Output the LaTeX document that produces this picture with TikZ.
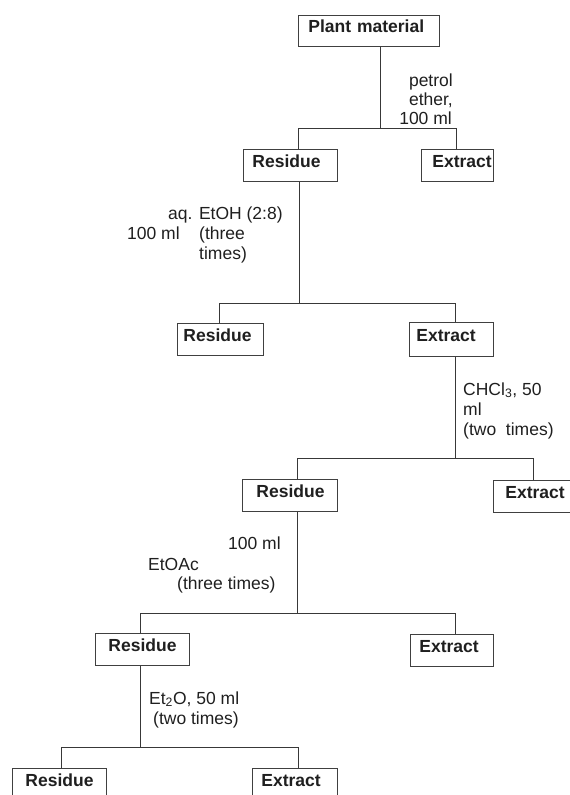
\documentclass[tikz,border=0pt]{standalone}
\usepackage{fontspec}
\setmainfont{Liberation Sans}
\begin{document}
\begin{tikzpicture}[x=1pt,y=-1pt,
  font=\fontsize{17.5}{19.5}\selectfont,
  box/.style={draw=black!75, line width=0.9pt, anchor=north west, inner xsep=0pt, inner ysep=0pt,
    align=left, text height=12pt, text depth=8pt, text=black!88,
    font=\fontsize{17.5}{19.5}\selectfont\bfseries},
  conn/.style={draw=black!78, line width=0.9pt},
  lbl/.style={inner sep=0pt, text=black!88},
  lw/.style={lbl, anchor=base west},
  le/.style={lbl, anchor=base east}]
\useasboundingbox (0,0) rectangle (570,795);
\clip (0,0) rectangle (570,795);

% boxes
\node[box, minimum width=141pt, minimum height=31pt, text width=141pt] (plant) at (298,15) {\hspace*{10pt}Plant material};
\node[box, minimum width=94pt, minimum height=32pt, text width=94pt] (res1) at (243,149) {\hspace*{9pt}Residue};
\node[box, minimum width=72pt, minimum height=32pt, text width=72pt] (ext1) at (421,149) {\hspace*{11pt}Extract};
\node[box, minimum width=86pt, minimum height=32pt, text width=86pt] (res2) at (177,323) {\hspace*{6pt}Residue};
\node[box, minimum width=84pt, minimum height=34pt, text width=84pt] (ext2) at (409,322) {\hspace*{7pt}Extract};
\node[box, minimum width=95pt, minimum height=32pt, text width=95pt] (res3) at (242,479) {\hspace*{14pt}Residue};
\node[box, minimum width=82pt, minimum height=32pt, text width=82pt] (ext3) at (493,480) {\hspace*{12pt}Extract};
\node[box, minimum width=94pt, minimum height=32pt, text width=94pt] (res4) at (95,633) {\hspace*{13pt}Residue};
\node[box, minimum width=83pt, minimum height=32pt, text width=83pt] (ext4) at (410,634) {\hspace*{9pt}Extract};
\node[box, minimum width=94pt, minimum height=32pt, text width=94pt] (res5) at (12,768) {\hspace*{13pt}Residue};
\node[box, minimum width=85pt, minimum height=32pt, text width=85pt] (ext5) at (252,768) {\hspace*{9pt}Extract};

% junctions
\coordinate (j1) at (380,128); \coordinate (d1a) at (298,128); \coordinate (d1b) at (456,128);
\coordinate (j2) at (299,303); \coordinate (d2a) at (219,303); \coordinate (d2b) at (455,303);
\coordinate (j3) at (455,458); \coordinate (d3a) at (297,458); \coordinate (d3b) at (533,458);
\coordinate (j4) at (297,613); \coordinate (d4a) at (140,613); \coordinate (d4b) at (455,613);
\coordinate (j5) at (140,747); \coordinate (d5a) at (61,747);  \coordinate (d5b) at (298,747);

% connectors
\draw[conn] (plant.south -| j1) -- (j1);
\draw[conn] (res1.north -| d1a) -- (d1a) -- (d1b) -- (ext1.north -| d1b);
\draw[conn] (res1.south -| j2) -- (j2);
\draw[conn] (res2.north -| d2a) -- (d2a) -- (d2b) -- (ext2.north -| d2b);
\draw[conn] (ext2.south -| j3) -- (j3);
\draw[conn] (res3.north -| d3a) -- (d3a) -- (d3b) -- (ext3.north -| d3b);
\draw[conn] (res3.south -| j4) -- (j4);
\draw[conn] (res4.north -| d4a) -- (d4a) -- (d4b) -- (ext4.north -| d4b);
\draw[conn] (res4.south -| j5) -- (j5);
\draw[conn] (res5.north -| d5a) -- (d5a) -- (d5b) -- (ext5.north -| d5b);

% labels
\node[le] (l1a) at (453,86) {petrol};
\node[le] (l1b) at (453,105) {ether,};
\node[le] (l1c) at (452,124) {100 ml};

\node[lw] (l2a) at (168,219) {aq. EtOH (2:8)};
\node[lw] (l2b) at (127,239) {100 ml};
\node[lw] (l2c) at (199,239) {(three};
\node[lw] (l2d) at (199,259) {times)};

\node[lw] (l3a) at (463,395) {CHCl\textsubscript{3}, 50};
\node[lw] (l3b) at (463,415) {ml};
\node[lw] (l3c) at (463,435) {(two\ \ times)};

\node[lw] (l4a) at (228,549) {100 ml};
\node[lw] (l4b) at (148,570) {EtOAc};
\node[lw] (l4c) at (177,589) {(three times)};

\node[lw] (l5a) at (149,704) {Et\textsubscript{2}O, 50 ml};
\node[lw] (l5b) at (153,724) {(two times)};
\end{tikzpicture}
\end{document}
